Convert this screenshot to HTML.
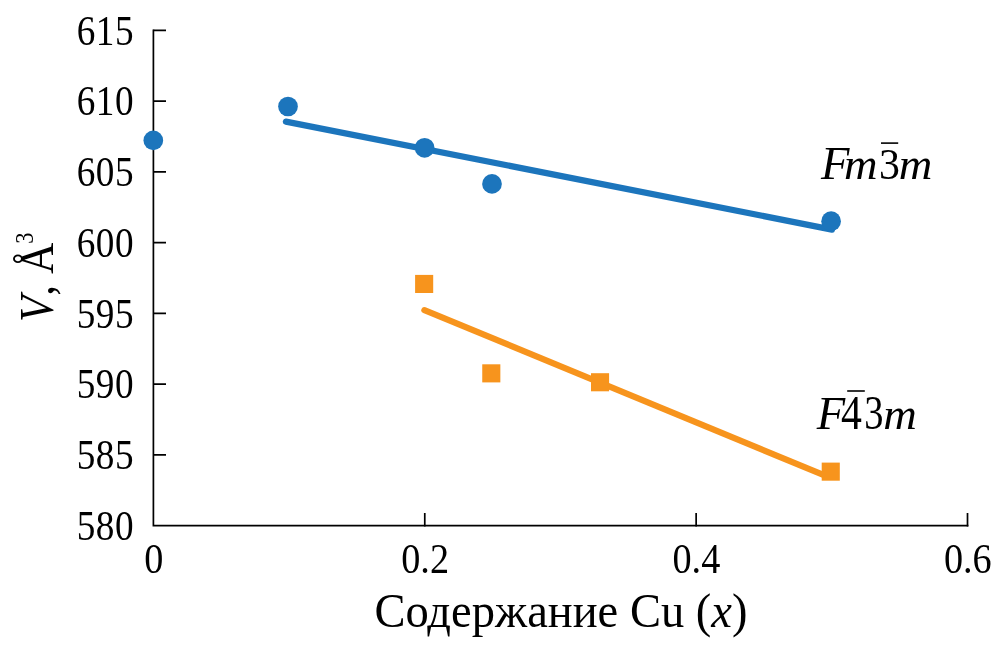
<!DOCTYPE html>
<html lang="ru">
<head>
<meta charset="utf-8">
<title>V(x)</title>
<style>
html,body{margin:0;padding:0;background:#fff;}
body{width:1004px;height:654px;overflow:hidden;}
svg{display:block;}
text{font-family:"Liberation Serif","Times New Roman",serif;fill:#000;}
.it{font-style:italic;}
</style>
</head>
<body>
<svg width="1004" height="654" viewBox="0 0 1004 654">
<rect width="1004" height="654" fill="#fff"/>
<g stroke="#000" stroke-width="1.7" fill="none">
<path d="M153.4 29.45V525.7H968.36"/>
<path d="M153.4 30.30H166.0M153.4 101.07H166.0M153.4 171.84H166.0M153.4 242.61H166.0M153.4 313.38H166.0M153.4 384.15H166.0M153.4 454.92H166.0"/>
<path d="M424.77 526.55V512.9M696.14 526.55V512.9M967.51 526.55V512.9"/>
</g>
<g>
<text transform="translate(134.1 44.6) scale(0.875 1)" font-size="42.5" text-anchor="end" letter-spacing="0.61">615</text>
<text transform="translate(134.1 115.4) scale(0.875 1)" font-size="42.5" text-anchor="end" letter-spacing="0.61">610</text>
<text transform="translate(134.1 186.1) scale(0.875 1)" font-size="42.5" text-anchor="end" letter-spacing="0.61">605</text>
<text transform="translate(134.1 256.9) scale(0.875 1)" font-size="42.5" text-anchor="end" letter-spacing="0.61">600</text>
<text transform="translate(134.1 327.7) scale(0.875 1)" font-size="42.5" text-anchor="end" letter-spacing="0.61">595</text>
<text transform="translate(134.1 398.4) scale(0.875 1)" font-size="42.5" text-anchor="end" letter-spacing="0.61">590</text>
<text transform="translate(134.1 469.2) scale(0.875 1)" font-size="42.5" text-anchor="end" letter-spacing="0.61">585</text>
<text transform="translate(134.1 540.0) scale(0.875 1)" font-size="42.5" text-anchor="end" letter-spacing="0.61">580</text>
</g>
<g>
<text transform="translate(153.7 572.6) scale(0.9 1)" font-size="42.5" text-anchor="middle">0</text>
<text transform="translate(425.1 572.6) scale(0.9 1)" font-size="42.5" text-anchor="middle">0.2</text>
<text transform="translate(696.4 572.6) scale(0.9 1)" font-size="42.5" text-anchor="middle">0.4</text>
<text transform="translate(967.8 572.6) scale(0.9 1)" font-size="42.5" text-anchor="middle">0.6</text>
</g>
<g fill="#1c75bc">
<line x1="285.9" y1="121.6" x2="832" y2="229.6" stroke="#1c75bc" stroke-width="6.2" stroke-linecap="round"/>
<circle cx="153.3" cy="140.4" r="9.85"/>
<circle cx="288" cy="106.5" r="9.85"/>
<circle cx="424.6" cy="147.8" r="9.85"/>
<circle cx="492" cy="183.9" r="9.85"/>
<circle cx="831.1" cy="221.2" r="9.85"/>
</g>
<g fill="#f7941d">
<line x1="424.4" y1="310.1" x2="827" y2="476.4" stroke="#f7941d" stroke-width="6.2" stroke-linecap="round"/>
<rect x="415.1" y="274.9" width="18.1" height="18.1"/>
<rect x="482.25" y="364.3" width="18.1" height="18.1"/>
<rect x="591.0" y="373.2" width="18.1" height="18.1"/>
<rect x="821.7" y="462.6" width="18.1" height="18.1"/>
</g>
<g>
<text class="it" transform="translate(821.0 179.0) scale(0.98 1)" font-size="47.5">F</text>
<text class="it" transform="translate(844.0 179.0) scale(1.045 1)" font-size="44.5">m</text>
<text transform="translate(879.0 179.3) scale(0.93 1)" font-size="45">3</text>
<text class="it" transform="translate(898.8 179.0) scale(1.045 1)" font-size="44.5">m</text>
<line x1="881" y1="143.1" x2="898.2" y2="143.1" stroke="#000" stroke-width="1.6"/>
</g>
<g>
<text class="it" transform="translate(816.8 429.0) scale(0.98 1)" font-size="47.5">F</text>
<text transform="translate(841.0 429.0) scale(0.87 1)" font-size="48">4</text>
<text transform="translate(864.3 429.3) scale(0.8 1)" font-size="48">3</text>
<text class="it" transform="translate(883.2 429.0) scale(1.045 1)" font-size="44.5">m</text>
<line x1="847.2" y1="391.0" x2="864.8" y2="391.0" stroke="#000" stroke-width="1.6"/>
</g>
<text transform="translate(374.4 627.0) scale(0.95 1)" font-size="49" text-anchor="start">Содержание Cu (<tspan class="it">x</tspan>)</text>
<text transform="translate(52.6 322.1) rotate(-90) scale(0.9 1)" font-size="48"><tspan class="it">V</tspan>, Å<tspan font-size="25" dx="-1" dy="-19.8">3</tspan></text>
</svg>
</body>
</html>
